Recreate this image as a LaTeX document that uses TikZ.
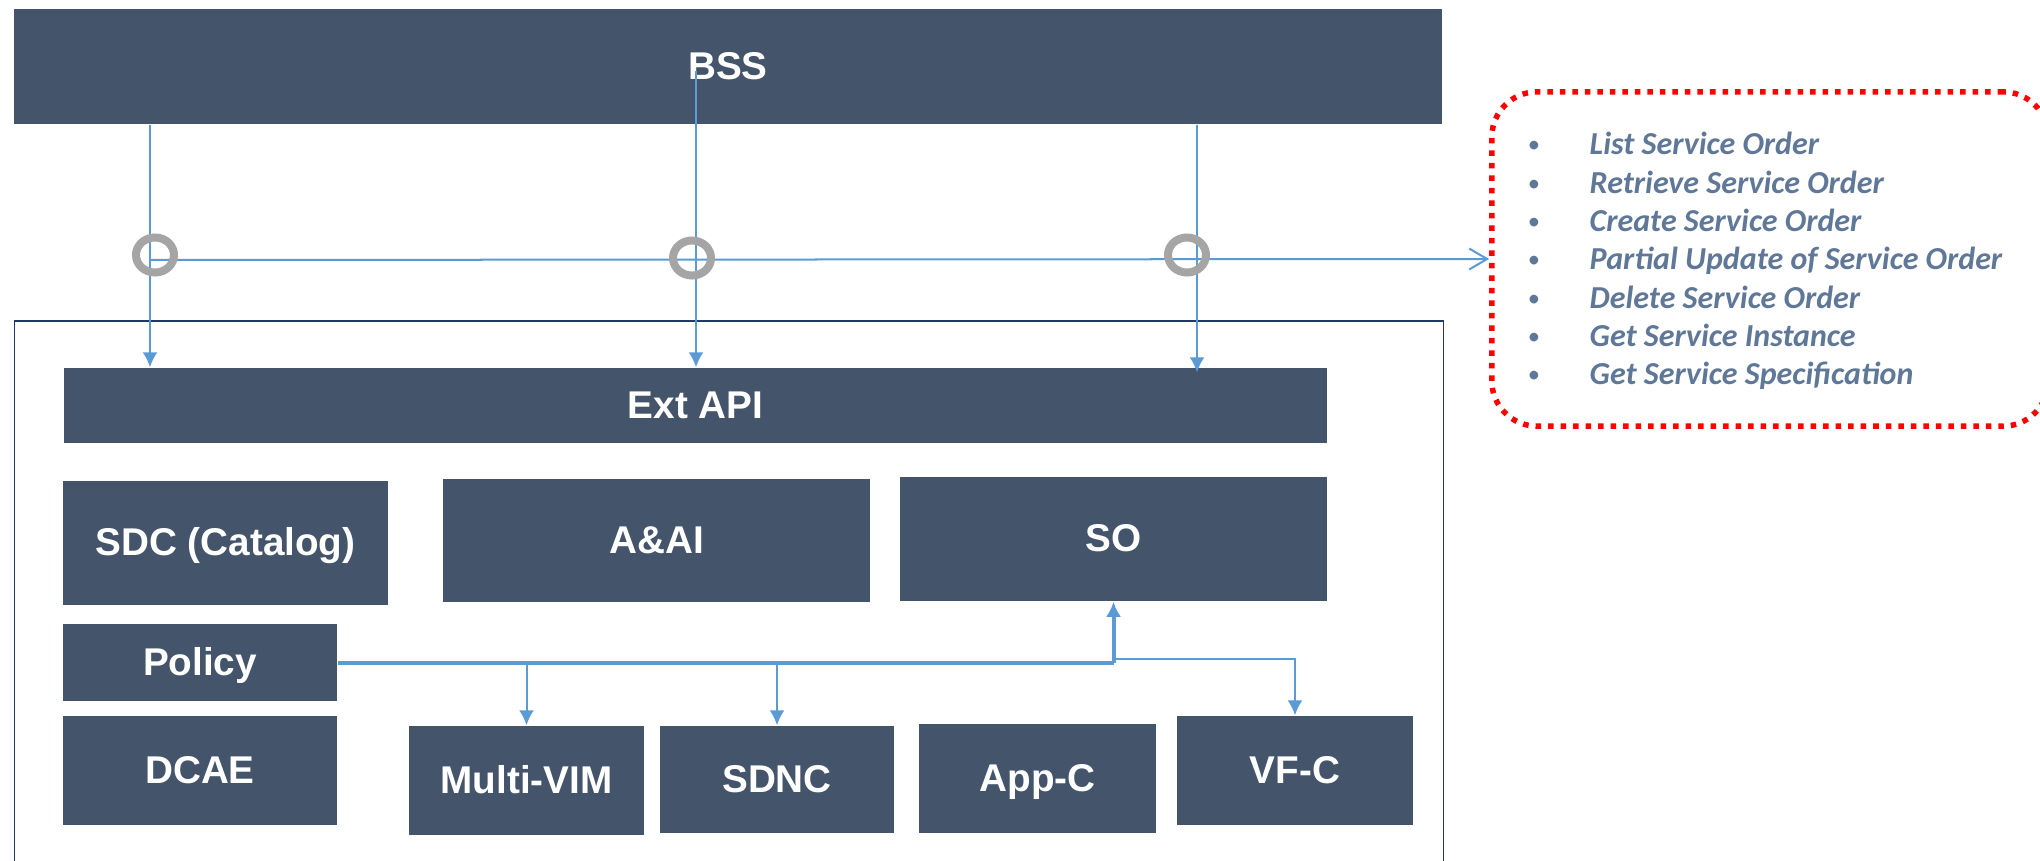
\documentclass[tikz,border=0pt]{standalone}
\usepackage{fontspec}
\setmainfont{Liberation Sans}
\newfontfamily\listfont{Carlito}
\usepackage{tikz}
\usetikzlibrary{arrows.meta, positioning}

\definecolor{slate}{HTML}{44546A}
\definecolor{linkblue}{HTML}{5B9BD5}
\definecolor{ringgray}{HTML}{A5A5A5}
\definecolor{framenavy}{HTML}{1F3864}
\definecolor{listblue}{HTML}{5F7898}

\tikzset{
  block/.style={fill=slate, inner sep=0pt, text=white,
    font=\bfseries\fontsize{11}{13}\selectfont, text height=0.72em, text depth=0pt},
  frame/.style={draw=framenavy, line width=0.018cm, inner sep=0pt},
  opsbox/.style={draw=red, line width=0.055cm, dash pattern=on 0.055cm off 0.07cm,
    rounded corners=0.45cm, inner sep=0pt},
  link/.style={draw=linkblue, line width=0.02cm},
  bus/.style={draw=linkblue, line width=0.04cm},
  ring/.style={draw=ringgray, line width=0.08cm},
  item/.style={inner sep=0pt, text=listblue,
    font=\listfont\bfseries\fontsize{9.1}{11}\selectfont},
}

\begin{document}
\begin{tikzpicture}[x=0.01cm, y=-0.01cm, >={Latex[length=0.15cm, width=0.15cm]}]
    \useasboundingbox (0,0) rectangle (2040,861);

    % -------------------------------------------------------
    % 1. Outer frame and BSS
    % -------------------------------------------------------
    \node[frame, minimum width=14.28cm, minimum height=5.79cm] (onap) at (729,610.5) {};
    \node[block, minimum width=14.28cm, minimum height=1.15cm] (bss) at (728,66.5) {BSS};

    % -------------------------------------------------------
    % 2. Components
    % -------------------------------------------------------
    \node[block, minimum width=12.63cm, minimum height=0.75cm] (extapi) at (695.5,405.5) {Ext API};
    \node[block, minimum width=3.25cm, minimum height=1.24cm] (sdc) at (225.5,543) {SDC (Catalog)};
    \node[block, minimum width=4.27cm, minimum height=1.23cm] (aai) at (656.5,540.5) {A\&AI};
    \node[block, minimum width=4.27cm, minimum height=1.24cm] (so) at (1113.5,539) {SO};
    \node[block, minimum width=2.74cm, minimum height=0.77cm] (policy) at (200,662.5) {Policy};
    \node[block, minimum width=2.74cm, minimum height=1.09cm] (dcae) at (200,770.5) {DCAE};
    \node[block, minimum width=2.35cm, minimum height=1.09cm] (mvim) at (526.5,780.5) {Multi-VIM};
    \node[block, minimum width=2.34cm, minimum height=1.07cm] (sdnc) at (777,779.5) {SDNC};
    \node[block, minimum width=2.37cm, minimum height=1.09cm] (appc) at (1037.5,778.5) {App-C};
    \node[block, minimum width=2.36cm, minimum height=1.09cm] (vfc) at (1295,770.5) {VF-C};

    % -------------------------------------------------------
    % 3. Service order operations
    % -------------------------------------------------------
    \node[opsbox, minimum width=5.56cm, minimum height=3.34cm] (ops) at (1770,259) {};
    \foreach \txt [count=\i from 0] in {List Service Order, Retrieve Service Order,
        Create Service Order, Partial Update of Service Order, Delete Service Order,
        Get Service Instance, Get Service Specification} {
      \node[item, anchor=base, font=\listfont\fontsize{7}{8}\selectfont] (dot\i) at (1534, 153+38.33*\i) {•};
      \node[item, anchor=base west] (op\i) at (1589, 155+38.33*\i) {\itshape\txt};
    }

    % -------------------------------------------------------
    % 4. BSS to Ext API
    % -------------------------------------------------------
    \coordinate (r1) at (150,260);
    \coordinate (r2) at (696,260);
    \coordinate (r3) at (1197,260);
    \coordinate (b2) at (696,71);

    \draw[link, ->] (bss.south -| r1) -- (extapi.north -| r1);
    \draw[link, ->] (b2) -- (extapi.north -| r2);
    \draw[link, ->] (bss.south -| r3) -- ([yshift=-0.05cm]extapi.north -| r3);
    \draw[link, -{Straight Barb[length=0.18cm, width=0.21cm]}] (r1) -- (ops.west);

    \foreach \c in {(155,255), (692,258), (1187,255)} {
      \draw[ring] \c ellipse [x radius=0.19cm, y radius=0.175cm];
    }

    % -------------------------------------------------------
    % 5. Policy to controllers
    % -------------------------------------------------------
    \coordinate (hub) at (so.south |- policy.east);
    \draw[bus] (policy.east) -- (hub);
    \draw[bus, ->] (hub) -- (so.south);
    \draw[link, ->] (mvim.north |- hub) -- (mvim.north);
    \draw[link, ->] (sdnc.north |- hub) -- (sdnc.north);
    \draw[link, ->] ([yshift=0.04cm]hub) -| (vfc.north);
\end{tikzpicture}
\end{document}
